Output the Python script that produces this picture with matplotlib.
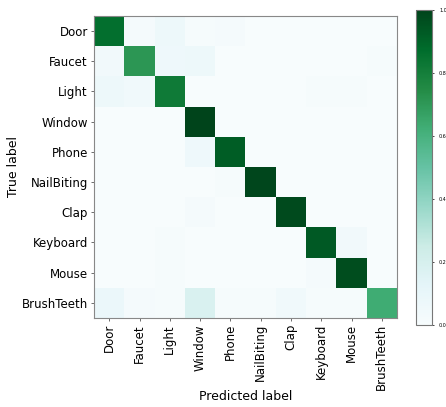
import numpy as np
import matplotlib
matplotlib.use("Agg")
import matplotlib.pyplot as plt

classes = ["Door", "Faucet", "Light", "Window", "Phone", "NailBiting",
           "Clap", "Keyboard", "Mouse", "BrushTeeth"]

# normalised confusion matrix, rows = true label, cols = predicted label
row_door       = [0.86, 0.02, 0.07, 0.01, 0.02, 0.00, 0.00, 0.00, 0.00, 0.00]
row_faucet     = [0.04, 0.71, 0.06, 0.07, 0.00, 0.00, 0.00, 0.00, 0.00, 0.01]
row_light      = [0.07, 0.05, 0.82, 0.00, 0.00, 0.00, 0.00, 0.01, 0.01, 0.00]
row_window     = [0.00, 0.00, 0.00, 1.00, 0.00, 0.00, 0.00, 0.00, 0.00, 0.00]
row_phone      = [0.00, 0.00, 0.00, 0.06, 0.92, 0.00, 0.00, 0.00, 0.00, 0.00]
row_nailbiting = [0.00, 0.00, 0.00, 0.00, 0.01, 0.99, 0.00, 0.00, 0.00, 0.00]
row_clap       = [0.00, 0.00, 0.00, 0.02, 0.00, 0.00, 0.98, 0.00, 0.00, 0.00]
row_keyboard   = [0.00, 0.00, 0.01, 0.00, 0.00, 0.00, 0.00, 0.93, 0.04, 0.00]
row_mouse      = [0.00, 0.00, 0.01, 0.00, 0.00, 0.00, 0.00, 0.02, 0.97, 0.00]
row_brushteeth = [0.08, 0.02, 0.01, 0.18, 0.01, 0.01, 0.05, 0.01, 0.01, 0.63]

cm = np.array([row_door, row_faucet, row_light, row_window, row_phone,
               row_nailbiting, row_clap, row_keyboard, row_mouse, row_brushteeth])

fig = plt.figure(figsize=(4.46, 4.07), dpi=100)
ax = fig.add_axes([0.211, 0.219, 0.679, 0.742])
cax = fig.add_axes([0.933, 0.201, 0.036, 0.774])

im = ax.imshow(cm, cmap="BuGn", vmin=0, vmax=1, interpolation="nearest", aspect="auto")
cb = fig.colorbar(im, cax=cax, ticks=[0.0, 0.2, 0.4, 0.6, 0.8, 1.0])
cb.ax.tick_params(labelsize=3.5, length=1.5, width=0.5)
cb.ax.set_yticklabels(["0.0", "0.2", "0.4", "0.6", "0.8", "1.0"])
cb.outline.set_edgecolor("#777777")

ax.set_xticks(range(len(classes)))
ax.set_yticks(range(len(classes)))
ax.set_xticklabels(classes, rotation=90, fontsize=8.5)
ax.set_yticklabels(classes, fontsize=8.5)
ax.tick_params(length=2.5, width=0.6, color="#555555", pad=2)
for s in ax.spines.values():
    s.set_edgecolor("#888888")
ax.set_xlabel("Predicted label", fontsize=9, labelpad=0)
ax.set_ylabel("True label", fontsize=9, labelpad=1)

fig.text(0.018, 1 - 401 / 407, "a", fontsize=22, fontweight="bold", va="top", ha="left")

fig.savefig("out.png", dpi=100)
